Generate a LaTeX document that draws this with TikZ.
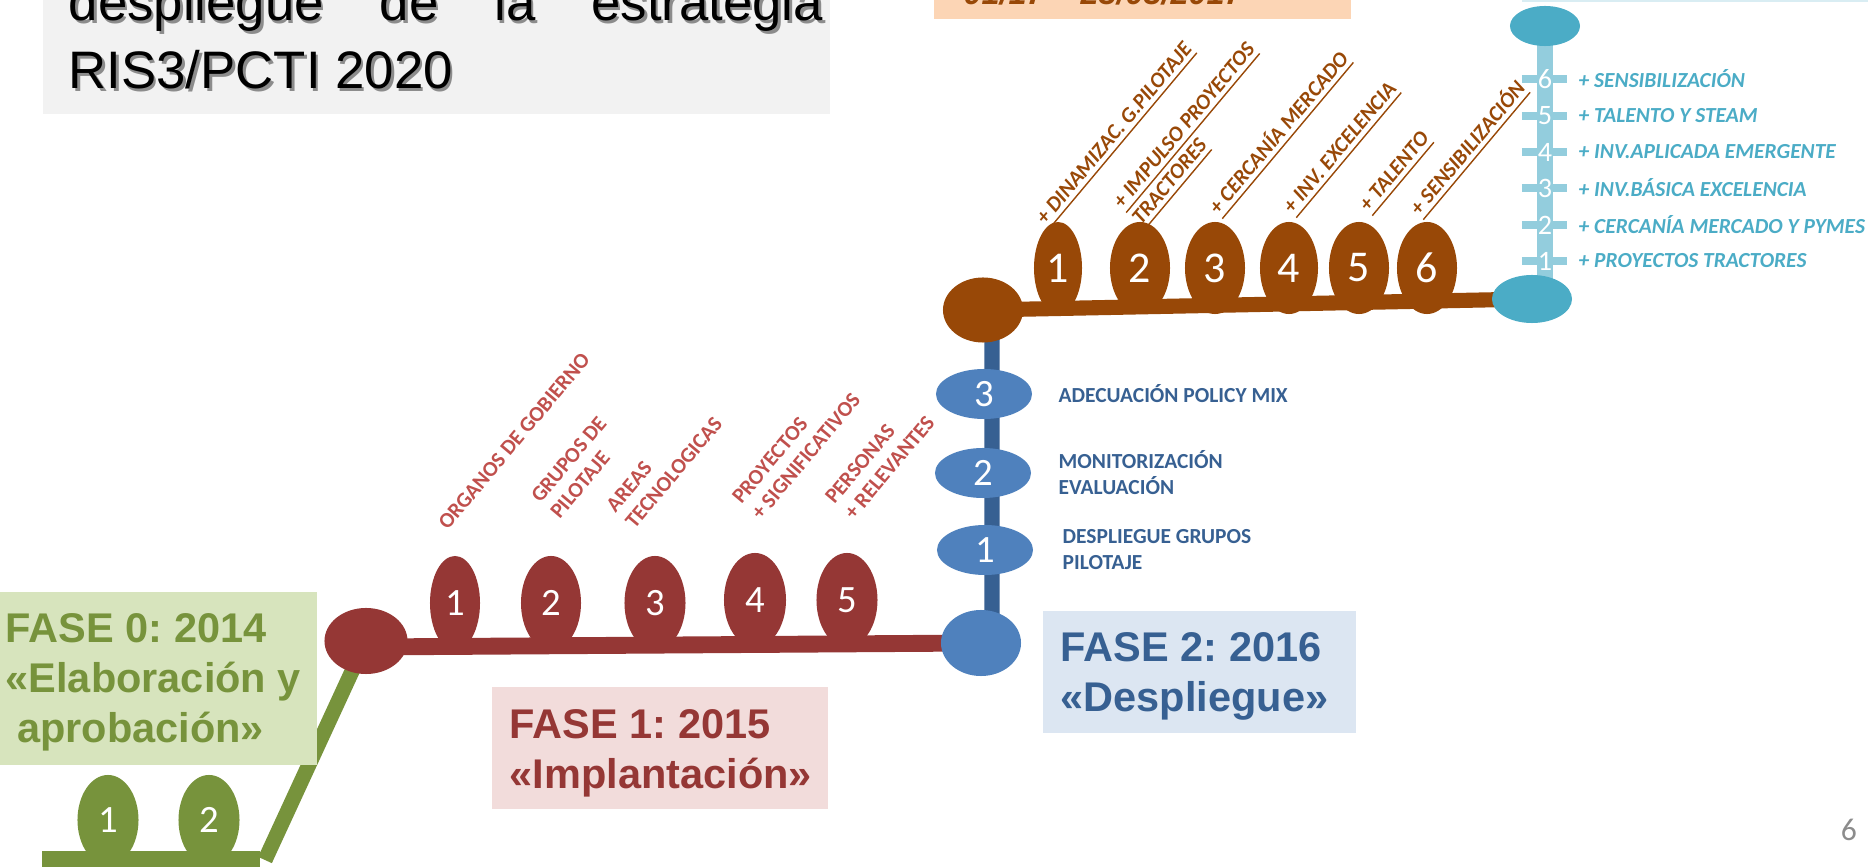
\documentclass[tikz,border=0pt]{standalone}
\usepackage{fontspec}
\setmainfont{Liberation Sans}
\newfontfamily\calibri{Carlito}
\usepackage{tikz}
\usetikzlibrary{shapes.geometric, backgrounds, positioning}
\frenchspacing

\definecolor{verde}{HTML}{77933C}
\definecolor{verdeclaro}{HTML}{D7E4BD}
\definecolor{rojo}{HTML}{953735}
\definecolor{rojotexto}{HTML}{C0504D}
\definecolor{rojoclaro}{HTML}{F2DCDB}
\definecolor{azul}{HTML}{4F81BD}
\definecolor{azuloscuro}{HTML}{376092}
\definecolor{azulclaro}{HTML}{DCE6F2}
\definecolor{marron}{HTML}{984807}
\definecolor{naranjaclaro}{HTML}{FCD5B5}
\definecolor{turquesa}{HTML}{4BACC6}
\definecolor{turquesaclaro}{HTML}{93CDDD}
\definecolor{grisfondo}{HTML}{F2F2F2}

\tikzset{
  titulo/.style={anchor=base west, inner sep=0pt, font=\fontsize{15}{19}\selectfont},
  fase/.style={anchor=north west, inner sep=0pt, align=left, font=\bfseries\fontsize{11.8}{14.2}\selectfont},
  hito/.style n args={2}{ellipse, inner sep=0pt, minimum width=#1, minimum height=#2, text=white, font=\calibri\fontsize{11}{11}\selectfont},
  eje/.style={line width=4.8pt},
  etiqueta/.style={rotate=50, anchor=south west, inner sep=0pt, align=left, font=\calibri\bfseries\fontsize{6.1}{7.1}\selectfont},
  subrayado/.style={text=marron, font=\calibri\bfseries\itshape\fontsize{6.1}{7.1}\selectfont},
  accion/.style={anchor=west, inner sep=0pt, align=left, text=azuloscuro, font=\calibri\bfseries\fontsize{6.1}{7.4}\selectfont},
  meta/.style={anchor=west, inner sep=0pt, text=turquesa, font=\calibri\bfseries\itshape\fontsize{6.1}{7.2}\selectfont}
}

\begin{document}
\begin{tikzpicture}[x=0.01cm, y=-0.01cm]
    \useasboundingbox (0,0) rectangle (1868,867);

    % Title box, top left
    \fill[grisfondo] (43,0) rectangle (830,114);
    \node[titulo, text=black!45] (tit1s) at (70.5,23.5) {\makebox[7.54cm][s]{despliegue de la estrategia}};
    \node[titulo, text=black!45] (tit2s) at (70.5,91.5) {RIS3/PCTI 2020};
    \node[titulo] (tit1) at (68,21) {\makebox[7.54cm][s]{despliegue de la estrategia}};
    \node[titulo] (tit2) at (68,89) {RIS3/PCTI 2020};

    % Boxes cut at the top edge
    \fill[naranjaclaro] (934,0) rectangle (1351,19);
    \node[anchor=base west, inner sep=0pt, text=marron, font=\bfseries\itshape\fontsize{9.2}{11}\selectfont] (fecha) at (963,5) {01/17 -- 23/03/2017};
    \fill[turquesaclaro!35] (1522,0) rectangle (1868,2);

    % Fase 0 (green)
    \coordinate (g0) at (42,859);
    \coordinate (g9) at (260,859);
    \coordinate (gd) at (265,860);
    \node[hito={0.61cm}{0.90cm}, fill=verde] (g1) at (108,820) {1};
    \node[hito={0.61cm}{0.90cm}, fill=verde] (g2) at (209,820) {2};
    \fill[verdeclaro] (0,592) rectangle (317,765);
    \node[fase, text=verde] (f0) at (5,613) {FASE 0: 2014\\«Elaboración y\\\ aprobación»};

    % Fase 1 (red)
    \node[hito={0.83cm}{0.66cm}, fill=rojo] (r0) at (366,641) {};
    \node[hito={0.50cm}{0.94cm}, fill=rojo] (r1) at (455,603) {1};
    \node[hito={0.60cm}{0.94cm}, fill=rojo] (r2) at (551,603) {2};
    \node[hito={0.61cm}{0.94cm}, fill=rojo] (r3) at (655,603) {3};
    \node[hito={0.62cm}{0.94cm}, fill=rojo] (r4) at (755,600) {4};
    \node[hito={0.61cm}{0.94cm}, fill=rojo] (r5) at (847,600) {5};
    \node[etiqueta, text=rojotexto] (e1) at (448,532) {ORGANOS DE GOBIERNO};
    \node[etiqueta, text=rojotexto] (e2) at (560,521) {GRUPOS DE\\PILOTAJE};
    \node[etiqueta, text=rojotexto] (e3) at (635,531) {AREAS\\TECNOLOGICAS};
    \node[etiqueta, text=rojotexto] (e4) at (761,522) {PROYECTOS\\+ SIGNIFICATIVOS};
    \node[etiqueta, text=rojotexto] (e5) at (854,522) {PERSONAS\\+ RELEVANTES};
    \fill[rojoclaro] (492,687) rectangle (828,809);
    \node[fase, text=rojo] (f1) at (509,709) {FASE 1: 2015\\«Implantación»};

    % Fase 2 (blue)
    \node[hito={0.80cm}{0.66cm}, fill=azul] (b0) at (981,643) {};
    \node[hito={0.96cm}{0.50cm}, fill=azul] (b1) at (985,550) {1};
    \node[hito={0.96cm}{0.50cm}, fill=azul] (b2) at (983,473) {2};
    \node[hito={0.96cm}{0.50cm}, fill=azul] (b3) at (984,394) {3};
    \node[accion] (a3) at (1058,394) {ADECUACIÓN POLICY MIX};
    \node[accion] (a2) at (1058,473) {MONITORIZACIÓN\\EVALUACIÓN};
    \node[accion] (a1) at (1062,550) {DESPLIEGUE GRUPOS\\PILOTAJE};
    \fill[azulclaro] (1043,611) rectangle (1356,733);
    \node[fase, text=azuloscuro] (f2) at (1060,632) {FASE 2: 2016\\«Despliegue»};

    % Brown stage
    \node[hito={0.80cm}{0.65cm}, fill=marron] (m0) at (983,310) {};
    \foreach \x/\w [count=\i] in {1058/0.48, 1140/0.60, 1215/0.60, 1289/0.58, 1359/0.60, 1427/0.60} {
        \node[hito={\w cm}{0.92cm}, fill=marron, font=\calibri\fontsize{12.5}{12.5}\selectfont] (m\i) at (\x,268) {\i};
    }
    \node[etiqueta, subrayado] (d1) at (1051,231) {\underline{+ DINAMIZAC. G.PILOTAJE}};
    \node[etiqueta, subrayado] (d2) at (1147,231) {\underline{+ IMPULSO PROYECTOS}\\\underline{TRACTORES}};
    \node[etiqueta, subrayado] (d3) at (1224,221) {\underline{+ CERCANÍA MERCADO}};
    \node[etiqueta, subrayado] (d4) at (1298,220) {\underline{+ INV. EXCELENCIA}};
    \node[etiqueta, subrayado] (d5) at (1374,218) {\underline{+ TALENTO}};
    \node[etiqueta, subrayado] (d6) at (1425,222) {\underline{+ SENSIBILIZACIÓN}};

    % Teal stage on the right
    \node[hito={0.70cm}{0.40cm}, fill=turquesa] (t1) at (1545,26) {};
    \node[hito={0.80cm}{0.48cm}, fill=turquesa] (t0) at (1532,299) {};
    \foreach \y/\txt [count=\i] in {261/{+ PROYECTOS TRACTORES}, 225/{+ CERCANÍA MERCADO Y PYMES}, 188/{+ INV.BÁSICA EXCELENCIA}, 152/{+ INV.APLICADA EMERGENTE}, 116/{+ TALENTO Y STEAM}, 79/{+ SENSIBILIZACIÓN}} {
        \node[inner sep=0pt, text=white, font=\calibri\fontsize{8}{8}\selectfont] (n\i) at (1545,\y) {\i};
        \node[meta] (o\i) at (1578,\y) {\txt};
    }

    % Bars behind the ellipses
    \begin{pgfonlayer}{background}
        \draw[eje, verde] (g0) -- (g9);
        \draw[verde, line width=4.3pt] (gd) -- (r0.center);
        \draw[eje, rojo] ([yshift=-0.06cm]r0.center) -- (b0.center);
        \draw[azuloscuro, line width=4.3pt] ([xshift=0.11cm]b0.center) -- ([xshift=0.09cm]m0.center);
        \draw[marron, line width=4.3pt] (m0.center) -- (t0.center);
        \draw[turquesaclaro, line width=4.3pt] (t1.center) -- (t1.center |- t0.center);
        \foreach \i in {1,...,6} {
            \draw[turquesaclaro, line width=2pt] ([xshift=-0.23cm]n\i.center) -- ([xshift=0.22cm]n\i.center);
        }
    \end{pgfonlayer}

    % Page number
    \node[text=black!45, font=\calibri\fontsize{9}{9}\selectfont] (pag) at (1849,830) {6};

\end{tikzpicture}
\end{document}
